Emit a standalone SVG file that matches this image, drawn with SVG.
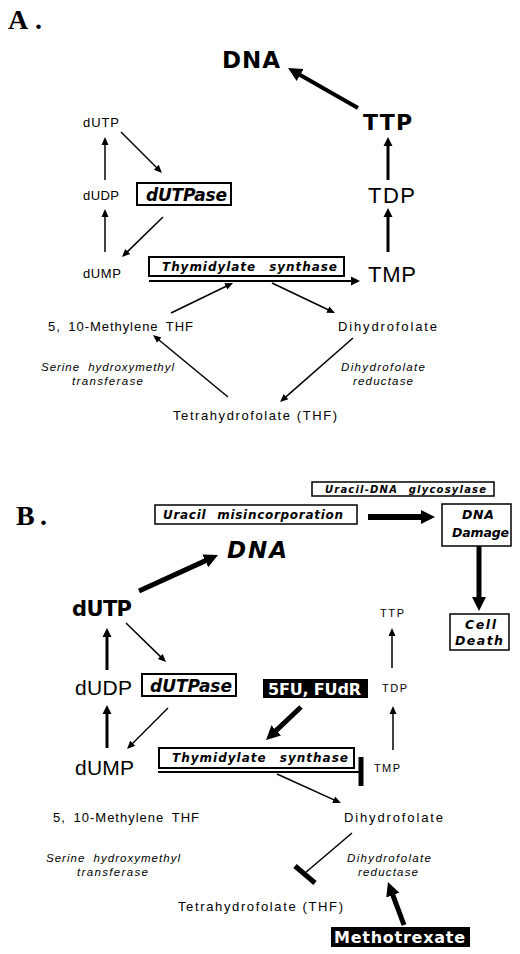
<svg xmlns="http://www.w3.org/2000/svg" width="520" height="954" viewBox="0 0 520 954">
<style>
text{font-family:"Liberation Sans",Arial,sans-serif;fill:#000}
.lbl{font-family:"Liberation Serif","Times New Roman",serif;font-weight:bold;font-size:28px}
.b{font-family:"DejaVu Sans","Liberation Sans",sans-serif;font-weight:bold}
.bi{font-family:"DejaVu Sans","Liberation Sans",sans-serif;font-weight:bold;font-style:italic}
.i{font-style:italic;font-size:11.5px}
.w{font-family:"DejaVu Sans","Liberation Sans",sans-serif;fill:#fff;font-weight:bold}
.box{fill:#fff;stroke:#000;stroke-width:2}
.box1{fill:#fff;stroke:#000;stroke-width:1.5}
.blk{fill:#000;stroke:none}
.c1{stroke:#000;stroke-width:1.5;fill:none;marker-end:url(#a1)}
.c2{stroke:#000;stroke-width:3;fill:none;marker-end:url(#a2)}
.c2t{stroke:#000;stroke-width:2;fill:none;marker-end:url(#a2)}
.c3{stroke:#000;stroke-width:5;fill:none;marker-end:url(#a3)}
.inh{stroke:#000;fill:none}
</style>
<defs>
<marker id="a1" markerUnits="userSpaceOnUse" markerWidth="10" markerHeight="10" viewBox="0 -5 10 10" refX="1" refY="0" orient="auto"><path d="M0,-3.5 L8,0 L0,3.5 z" fill="#000"/></marker>
<marker id="a2" markerUnits="userSpaceOnUse" markerWidth="11" markerHeight="11" viewBox="0 -5.5 11 11" refX="1" refY="0" orient="auto"><path d="M0,-4.5 L9,0 L0,4.5 z" fill="#000"/></marker>
<marker id="a3" markerUnits="userSpaceOnUse" markerWidth="16" markerHeight="16" viewBox="0 -8 16 16" refX="1" refY="0" orient="auto"><path d="M0,-7 L14,0 L0,7 z" fill="#000"/></marker>
</defs>
<rect width="520" height="954" fill="#fff"/>

<text class="lbl" x="8" y="29" textLength="34">A.</text>
<text class="lbl" x="16" y="525" textLength="31">B.</text>

<g id="connectors">
<!-- Panel A -->
<line class="c3" style="stroke-width:4" x1="358" y1="108" x2="299.3" y2="74.5"/>
<line class="c2" x1="388" y1="180" x2="388" y2="145"/>
<line class="c2" x1="388" y1="252" x2="388" y2="216"/>
<line class="c1" x1="105" y1="180" x2="105" y2="144"/>
<line class="c1" x1="121" y1="132" x2="157" y2="168"/>
<line class="c1" x1="163" y1="217" x2="127" y2="252.1"/>
<line class="c1" x1="105" y1="252" x2="105" y2="216"/>
<line class="c2t" x1="149" y1="281" x2="352" y2="281"/>
<line class="c1" x1="171" y1="313" x2="226.7" y2="286"/>
<line class="c1" x1="272" y1="283" x2="328.7" y2="310"/>
<line class="c1" x1="228" y1="397" x2="158.4" y2="339.5"/>
<line class="c1" x1="353" y1="338" x2="285.3" y2="397.4"/>
<!-- Panel B -->
<line class="c3" x1="139" y1="591" x2="206.2" y2="560.4"/>
<line class="c2" x1="107" y1="670" x2="107" y2="636"/>
<line class="c1" x1="126" y1="623" x2="161" y2="657.1"/>
<line class="c2" x1="107" y1="748" x2="107" y2="713"/>
<line class="c1" x1="168" y1="708" x2="132" y2="744"/>
<line class="c1" x1="392" y1="668" x2="392" y2="635"/>
<line class="c1" x1="393" y1="750" x2="393" y2="713"/>
<line class="c3" x1="301" y1="707" x2="275.5" y2="731.1"/>
<line class="c1" x1="277" y1="774" x2="334.6" y2="800.1"/>
<line class="c3" x1="404" y1="925" x2="392.5" y2="894.2"/>
<line class="c3" style="stroke-width:6" x1="368" y1="517" x2="422" y2="517"/>
<line class="c3" x1="479" y1="546" x2="479" y2="598"/>
<line class="inh" stroke-width="2" x1="158" y1="772" x2="361" y2="772"/>
<line class="inh" stroke-width="5" x1="361" y1="757" x2="361" y2="786"/>
<line class="inh" stroke-width="1.5" x1="352" y1="833" x2="305" y2="873"/>
<line class="inh" stroke-width="5" x1="295" y1="866" x2="315" y2="883"/>
</g>

<!-- Panel A nodes -->
<g id="A-DNA"><text class="b" font-size="23" x="222" y="68" textLength="58">DNA</text></g>
<g id="A-TTP"><text class="b" font-size="22" x="363" y="130" textLength="49">TTP</text></g>
<g id="A-TDP"><text font-size="22" x="368" y="203" textLength="47">TDP</text></g>
<g id="A-TMP"><text font-size="22" x="368" y="282" textLength="48">TMP</text></g>
<g id="A-dUTP"><text font-size="13" x="83" y="127" textLength="36">dUTP</text></g>
<g id="A-dUDP"><text font-size="13" x="83" y="200" textLength="36">dUDP</text></g>
<g id="A-dUMP"><text font-size="13" x="83" y="278" textLength="38">dUMP</text></g>
<g id="A-dUTPase"><rect class="box" x="137" y="183" width="94" height="22"/><text class="bi" font-size="17" x="146" y="201" textLength="81">dUTPase</text></g>
<g id="A-TS"><rect class="box" x="149" y="257" width="195" height="19"/><text class="bi" font-size="12" x="162" y="270.5" textLength="175" word-spacing="8">Thymidylate synthase</text></g>
<g id="A-MTHF"><text font-size="13" x="48" y="331" textLength="145" word-spacing="3">5, 10-Methylene THF</text></g>
<g id="A-DHF"><text font-size="13" x="338" y="331" textLength="99">Dihydrofolate</text></g>
<g id="A-SHMT"><text class="i" x="41" y="371" textLength="133" word-spacing="4">Serine hydroxymethyl</text><text class="i" x="72" y="385" textLength="71">transferase</text></g>
<g id="A-DHFR"><text class="i" x="341" y="371" textLength="84">Dihydrofolate</text><text class="i" x="353" y="385" textLength="60">reductase</text></g>
<g id="A-THF"><text font-size="13" x="173" y="420" textLength="164">Tetrahydrofolate (THF)</text></g>

<!-- Panel B nodes -->
<g id="B-UDG"><rect class="box1" x="312" y="482" width="182" height="14"/><text class="bi" font-size="10" x="325" y="492.5" textLength="161" word-spacing="6">Uracil-DNA glycosylase</text></g>
<g id="B-Uracil"><rect class="box1" x="155" y="505" width="202" height="19"/><text class="bi" font-size="12" x="163" y="518.5" textLength="180" word-spacing="6">Uracil misincorporation</text></g>
<g id="B-Damage"><rect class="box1" x="442" y="504" width="69" height="42"/><text class="bi" font-size="12.5" x="462" y="519" textLength="32">DNA</text><text class="bi" font-size="12.5" x="452" y="537" textLength="57">Damage</text></g>
<g id="B-Death"><rect class="box1" x="450" y="614" width="59" height="36"/><text class="bi" font-size="12.5" x="465" y="628.5" textLength="31">Cell</text><text class="bi" font-size="12.5" x="455" y="645" textLength="48">Death</text></g>
<g id="B-DNA"><text class="bi" font-size="23" x="227" y="558" textLength="60">DNA</text></g>
<g id="B-dUTP"><text class="b" font-size="21" x="72" y="616" textLength="60">dUTP</text></g>
<g id="B-TTP"><text font-size="11" x="380" y="617" textLength="24">TTP</text></g>
<g id="B-dUDP"><text font-size="21" x="75" y="695" textLength="57">dUDP</text></g>
<g id="B-dUTPase"><rect class="box" x="142" y="674" width="94" height="22"/><text class="bi" font-size="17" x="150" y="692" textLength="82">dUTPase</text></g>
<g id="B-5FU"><rect class="blk" x="263" y="679" width="105" height="19"/><text class="w" font-size="16" x="268" y="695" textLength="93">5FU, FUdR</text></g>
<g id="B-TDP"><text font-size="11" x="382" y="692" textLength="25">TDP</text></g>
<g id="B-dUMP"><text font-size="21" x="75" y="775" textLength="59">dUMP</text></g>
<g id="B-TS"><rect class="box" x="159" y="748" width="195" height="20"/><text class="bi" font-size="12" x="172" y="762" textLength="176" word-spacing="8">Thymidylate synthase</text></g>
<g id="B-TMP"><text font-size="11" x="374" y="772" textLength="26">TMP</text></g>
<g id="B-MTHF"><text font-size="13" x="53" y="822" textLength="146" word-spacing="3">5, 10-Methylene THF</text></g>
<g id="B-DHF"><text font-size="13" x="344" y="822" textLength="99">Dihydrofolate</text></g>
<g id="B-SHMT"><text class="i" x="46" y="862" textLength="134" word-spacing="4">Serine hydroxymethyl</text><text class="i" x="77" y="876" textLength="71">transferase</text></g>
<g id="B-DHFR"><text class="i" x="347" y="862" textLength="84">Dihydrofolate</text><text class="i" x="358" y="876" textLength="60">reductase</text></g>
<g id="B-THF"><text font-size="13" x="178" y="911" textLength="165">Tetrahydrofolate (THF)</text></g>
<g id="B-MTX"><rect class="blk" x="331" y="927" width="139" height="20"/><text class="w" font-size="16" x="334" y="942.5" textLength="131">Methotrexate</text></g>
</svg>
